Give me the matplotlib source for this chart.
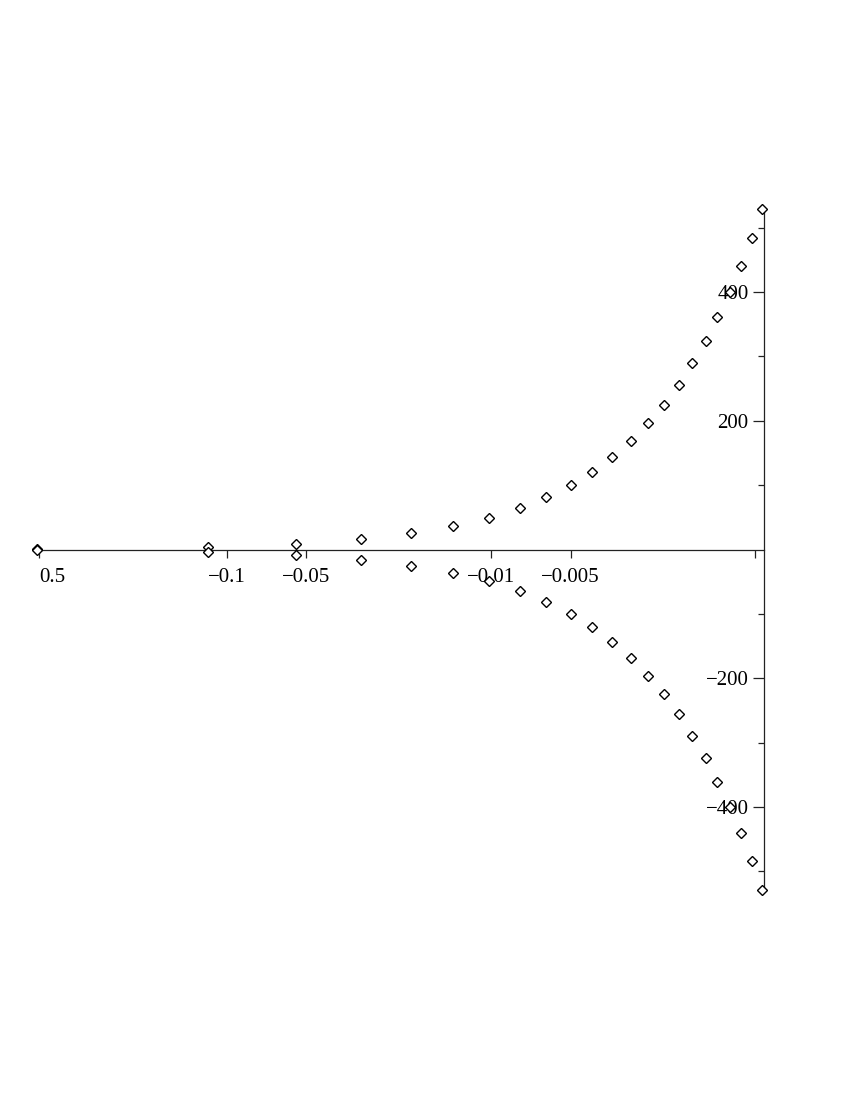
import matplotlib.pyplot as plt
import numpy as np
from matplotlib.ticker import FixedLocator, FixedFormatter

plt.rcParams['font.family'] = ['Liberation Serif', 'DejaVu Serif']

# data
x_vals = [-0.52, -0.118, -0.0547, -0.0311, -0.0201, -0.0139, -0.0102, -0.0078,
          -0.00617, -0.005, -0.00413, -0.00347, -0.00296, -0.00255, -0.00222,
          -0.00195, -0.00173, -0.00154, -0.00139, -0.00125, -0.00113,
          -0.00103, -0.000945]
y_upper = [1, 4, 9, 16, 25, 36, 49, 64, 81, 100, 121, 144, 169, 196, 225,
           256, 289, 324, 361, 400, 441, 484, 529]
y_lower = [-v for v in y_upper]

x_ticks = [-0.513, -0.1, -0.05, -0.01, -0.005, -0.001]
x_labels = ['0.5', '\u22120.1', '\u22120.05', '\u22120.01', '\u22120.005', '']
y_major = [-400, -200, 200, 400]
y_labels = ['\u2212400', '\u2212200', '200', '400']
y_minor = [-500, -300, -100, 100, 300, 500]


def fwd(x):
    with np.errstate(invalid='ignore', divide='ignore'):
        return -np.log10(-np.asarray(x, dtype=float))


def inv(y):
    return -10.0 ** (-np.asarray(y, dtype=float))


fig = plt.figure(figsize=(8.5, 11), dpi=100)
W, H = 850, 1100
ax = fig.add_axes([37 / W, (H - 890) / H, (764 - 37) / W, (890 - 209) / H])
ax.set_xscale('function', functions=(fwd, inv))
ax.set_xlim(-0.522, -0.000927)
ax.set_ylim(-529, 529)

mk = dict(marker='D', ms=4.7, mfc='white', mec='black', mew=1.0,
          linestyle='none', clip_on=False, zorder=3)
ax.plot(x_vals, y_upper, **mk)
ax.plot(x_vals, y_lower, **mk)

# Maple-like axes: horizontal at y=0, vertical at right edge
for s in ['top', 'right']:
    ax.spines[s].set_visible(False)
ax.spines['bottom'].set_position(('data', 0))
ax.spines['left'].set_position(('axes', 1.0))
for s in ['bottom', 'left']:
    ax.spines[s].set_color('#222222')
    ax.spines[s].set_linewidth(0.9)

ax.xaxis.set_major_locator(FixedLocator(x_ticks))
ax.xaxis.set_major_formatter(FixedFormatter(x_labels))
ax.xaxis.set_minor_locator(FixedLocator([]))
ax.tick_params(axis='x', which='major', direction='out', length=6,
               width=0.9, color='#222222', labelsize=15, pad=7)
lbl0 = ax.get_xticklabels()[0]
lbl0.set_horizontalalignment('left')

ax.yaxis.set_major_locator(FixedLocator(y_major))
ax.yaxis.set_major_formatter(FixedFormatter(y_labels))
ax.yaxis.set_minor_locator(FixedLocator(y_minor))
ax.tick_params(axis='y', which='major', direction='out', length=8,
               width=0.9, color='#222222', labelsize=15, pad=3)
ax.tick_params(axis='y', which='minor', direction='out', length=4,
               width=0.9, color='#222222')

fig.savefig('out.png', dpi=100)
